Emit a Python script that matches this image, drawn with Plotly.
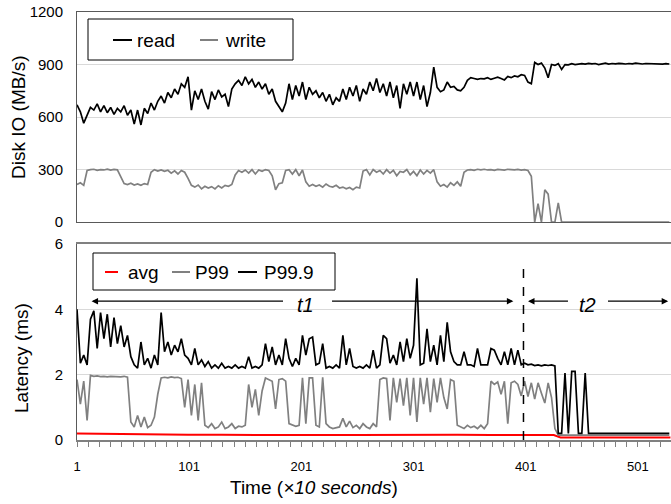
import plotly.graph_objects as go

# time index (x10 seconds), sampled every 3 units
t = list(range(1, 530, 3))

read = [
    670, 630, 565, 615, 655, 640, 675, 630, 665, 625,
    655, 615, 650, 630, 665, 610, 640, 560, 640, 555,
    650, 620, 680, 640, 690, 720, 680, 740, 710, 760,
    730, 790, 770, 830, 640, 750, 700, 760, 690, 645,
    745, 700, 755, 715, 730, 660, 760, 790, 810, 780,
    830, 790, 815, 770, 800, 760, 790, 730, 760, 690,
    660, 630, 680, 790, 700, 780, 720, 800, 700, 770,
    730, 750, 710, 740, 690, 730, 670, 710, 690, 760,
    700, 770, 720, 780, 690, 760, 730, 800, 750, 820,
    740, 790, 720, 800, 710, 780, 650, 790, 730, 800,
    720, 800, 700, 780, 660, 740, 885, 770, 745, 755,
    800, 770, 775, 755, 750, 770, 810, 825, 820, 815,
    820, 818, 825, 815, 822, 828, 820, 812, 832, 825,
    835, 830, 842, 838, 800, 790, 912, 900, 908, 880,
    825, 900, 895, 905, 872, 900, 898, 905, 900, 903,
    905, 902, 907, 904, 906, 900, 905, 908, 903, 906,
    904, 907, 905, 903, 906, 904, 908, 905, 903, 906,
    905, 903, 906, 904, 902, 905, 903,
]

write = [
    215, 225, 210, 295, 300, 302, 296, 300, 298, 303,
    297, 301, 299, 258, 220, 215, 222, 212, 218, 210,
    220, 215, 285, 300, 292, 298, 290, 296, 280, 293,
    275, 295, 285, 250, 210, 200, 212, 190, 205, 195,
    203, 190, 208, 195, 210, 205, 215, 270, 295, 285,
    298, 280, 300, 275, 298, 290, 300, 295, 265, 185,
    220, 225, 295, 300, 275, 300, 265, 298, 230, 205,
    215, 205, 212, 200, 218, 205, 200, 210, 195, 200,
    190, 198, 185, 200, 195, 292, 300, 270, 300, 285,
    295, 275, 300, 280, 296, 265, 290, 285, 300, 270,
    290, 265, 298, 275, 296, 280, 300, 230, 205, 215,
    200, 225, 210, 230, 205, 285, 298, 300, 296, 302,
    299, 302, 298, 300, 296, 301, 299, 297, 302, 300,
    298, 301, 297, 300, 295, 262, 0, 105, 0, 185,
    160, 0, 0, 110, 0, 0, 0, 0, 0, 0,
    0, 0, 0, 0, 0, 0, 0, 0, 0, 0,
    0, 0, 0, 0, 0, 0, 0, 0, 0, 0,
    0, 0, 0, 0, 0, 0, 0,
]

p999 = [
    4.0, 2.35, 2.6, 2.3, 3.7, 3.95, 2.8, 3.9, 3.1, 3.85,
    2.85, 3.75, 2.95, 3.5, 2.85, 3.2, 2.55, 2.3, 2.2, 3.0,
    2.3, 2.5, 2.2, 2.6, 2.3, 3.9, 2.7, 3.0, 2.6, 2.9,
    2.7, 3.1, 2.6, 2.5, 2.3, 2.8, 2.3, 2.45, 2.25, 2.4,
    2.2, 2.3, 2.2, 2.35, 2.2, 2.25, 2.2, 2.3, 2.2, 2.25,
    2.2, 2.55, 2.2, 2.25, 2.2, 2.3, 2.95, 2.4, 2.85, 2.3,
    2.6, 2.3, 3.1, 2.5, 2.25, 2.5, 2.3, 3.2, 2.6, 3.1,
    3.15, 2.3, 2.35, 2.95, 2.2, 2.25, 2.2, 2.3, 2.2, 3.2,
    2.3, 2.8, 2.25, 2.2, 2.25, 2.2, 2.3, 2.2, 2.75, 2.2,
    2.3, 3.2, 3.1, 2.35, 2.6, 2.3, 3.0, 2.4, 3.1, 2.5,
    2.9, 4.95, 2.3, 2.35, 3.4, 2.4, 2.9, 2.3, 3.2, 2.4,
    3.6, 2.7, 2.4, 2.3, 2.3, 2.7, 2.3, 2.3, 2.25, 2.8,
    2.3, 2.3, 2.3, 2.8, 2.75, 2.5, 2.3, 2.7, 2.3, 2.8,
    2.3, 2.75, 2.3, 2.35, 2.3, 2.32, 2.28, 2.3, 2.27, 2.3,
    2.28, 2.3, 2.27, 0.2, 0.2, 2.05, 0.2, 2.1, 2.1, 0.2,
    0.2, 2.05, 0.2, 0.2, 0.2, 0.2, 0.2, 0.2, 0.2, 0.2,
    0.2, 0.2, 0.2, 0.2, 0.2, 0.2, 0.2, 0.2, 0.2, 0.2,
    0.2, 0.2, 0.2, 0.2, 0.2, 0.2, 0.2,
]

p99 = [
    1.85, 1.1, 1.8, 0.6, 1.98, 1.95, 1.96, 1.94, 1.95, 1.93,
    1.95, 1.94, 1.95, 1.93, 1.95, 1.92, 0.55, 0.4, 0.75, 0.4,
    0.7, 0.38, 0.45, 0.7, 1.4, 1.9, 1.92, 1.9, 1.93, 1.91,
    1.92, 1.88, 1.0, 1.85, 0.75, 1.7, 0.6, 1.75, 0.45, 0.38,
    0.5, 0.35, 0.4, 0.55, 0.35, 0.4, 0.5, 0.35, 0.42, 0.4,
    0.45, 1.7, 1.0, 1.55, 0.75, 1.5, 1.9, 1.85, 1.8, 0.95,
    1.85, 1.88, 1.8, 0.5, 0.45, 0.42, 0.45, 1.9, 0.5, 1.9,
    1.9, 0.45, 0.4, 1.92, 0.5, 0.4, 0.35, 0.38, 0.4, 0.66,
    0.4, 0.58, 0.38, 0.45, 0.35, 0.5, 0.4, 0.35, 0.5, 0.4,
    1.85, 1.9, 1.88, 0.6, 1.9, 1.15, 1.88, 1.05, 1.9, 0.75,
    1.9, 0.55, 1.9, 1.1, 1.9, 0.85, 1.88, 1.15, 1.9, 1.3,
    0.95, 1.85, 1.8, 0.45, 0.4, 0.35, 0.45, 0.38, 0.42, 0.35,
    0.45, 0.35, 0.5, 1.8, 1.7, 1.78, 1.4, 1.8, 0.5, 1.75,
    1.8, 1.7, 1.35, 1.8, 1.33, 1.75, 1.25, 1.75, 1.43, 1.13,
    1.75, 1.3, 0.35, 0.15, 0.15, 0.15, 0.15, 0.15, 0.15, 0.15,
    0.15, 0.15, 0.15, 0.15, 0.15, 0.15, 0.15, 0.15, 0.15, 0.15,
    0.15, 0.15, 0.15, 0.15, 0.15, 0.15, 0.15, 0.15, 0.15, 0.15,
    0.15, 0.15, 0.15, 0.15, 0.15, 0.15, 0.15,
]

avg_t = [1, 20, 40, 60, 80, 100, 130, 160, 190, 220, 250, 280, 310, 340, 370, 400, 426, 432, 460, 500, 530]
avg = [0.2, 0.19, 0.19, 0.18, 0.17, 0.16, 0.16, 0.15, 0.16, 0.15, 0.15, 0.16, 0.15, 0.16, 0.15, 0.15, 0.15, 0.08, 0.08, 0.08, 0.08]

io_ticks = [0, 300, 600, 900, 1200]
lat_ticks = [0, 2, 4, 6]
boundary_t = 399

FONT = "Liberation Sans, Arial, sans-serif"
C_READ, C_WRITE = "#000000", "#808080"
C_AVG, C_P99, C_P999 = "#ff0000", "#808080", "#000000"

fig = go.Figure()
fig.add_trace(go.Scatter(x=t, y=read, name="read", mode="lines",
                         line=dict(color=C_READ, width=1.7), xaxis="x", yaxis="y"))
fig.add_trace(go.Scatter(x=t, y=write, name="write", mode="lines",
                         line=dict(color=C_WRITE, width=1.7), xaxis="x", yaxis="y"))
fig.add_trace(go.Scatter(x=avg_t, y=avg, name="avg", mode="lines",
                         line=dict(color=C_AVG, width=2), xaxis="x2", yaxis="y2"))
fig.add_trace(go.Scatter(x=t, y=p99, name="P99", mode="lines",
                         line=dict(color=C_P99, width=1.7), xaxis="x2", yaxis="y2"))
fig.add_trace(go.Scatter(x=t, y=p999, name="P99.9", mode="lines",
                         line=dict(color=C_P999, width=1.7), xaxis="x2", yaxis="y2"))

xr = [1, 530.5]
fig.update_layout(
    width=671, height=504,
    margin=dict(l=77, r=0, t=12, b=64),
    paper_bgcolor="white", plot_bgcolor="white",
    font=dict(family=FONT, color="#000000"),
    showlegend=False,
    xaxis=dict(domain=[0, 1], range=xr, anchor="y", showticklabels=False, ticks="",
               showgrid=False, zeroline=False, showline=True, mirror=True,
               linecolor="#595959", linewidth=1),
    yaxis=dict(domain=[0.509, 1], range=[0, 1200], tickmode="array", tickvals=io_ticks,
               showgrid=True, gridcolor="#d9d9d9", zeroline=False, showline=True, mirror=True,
               linecolor="#595959", linewidth=1, ticks="", tickfont=dict(size=15),
               ticklabelstandoff=10),
    xaxis2=dict(domain=[0, 1], range=xr, anchor="y2", tickmode="linear", tick0=1, dtick=100,
                ticks="outside", ticklen=5, tickcolor="#808080", tickfont=dict(size=13),
                minor=dict(ticks="outside", ticklen=5, tick0=1, dtick=10, tickcolor="#808080", showgrid=False),
                showgrid=False, zeroline=False, showline=True, mirror=True,
                linecolor="#808080", linewidth=2, ticklabelstandoff=8),
    yaxis2=dict(domain=[0, 0.458], range=[0, 6], tickmode="array", tickvals=lat_ticks,
                showgrid=True, gridcolor="#d9d9d9", zeroline=False, showline=True, mirror=True,
                linecolor="#595959", linewidth=1, ticks="", tickfont=dict(size=15),
                ticklabelstandoff=10),
)

# plot area in pixels: x 77..671, y 12..440
def px(xp):
    return (xp - 77) / 594.0

def py(yp):
    return (440 - yp) / 428.0

def legend_box(x0, x1, y0, y1, ly, items):
    fig.add_shape(type="rect", xref="paper", yref="paper", x0=px(x0), x1=px(x1), y0=py(y1), y1=py(y0),
                  line=dict(color="#000000", width=1), fillcolor="white", layer="above")
    for (lx0, lx1, tx, label, color) in items:
        fig.add_shape(type="line", xref="paper", yref="paper", x0=px(lx0), x1=px(lx1), y0=py(ly), y1=py(ly),
                      line=dict(color=color, width=2), layer="above")
        fig.add_annotation(x=px(tx), y=py(ly), xref="paper", yref="paper", text=label, showarrow=False,
                           xanchor="left", yanchor="middle", font=dict(size=19))

legend_box(88, 293, 19, 60, 40, [
    (113, 132, 135, "read", C_READ),
    (200, 218, 223, "write", C_WRITE),
])
legend_box(93, 335, 253, 290, 272, [
    (105, 118, 126, "avg", C_AVG),
    (172, 190, 193, "P99", C_P99),
    (238, 257, 262, "P99.9", C_P999),
])

# boundary between the two phases
fig.add_shape(type="line", xref="x2", yref="y2", x0=boundary_t, x1=boundary_t, y0=0, y1=5.38,
              line=dict(color="#000000", width=1.5, dash="dash"))

arrow = dict(xref="x2", yref="y2", axref="x2", ayref="y2", text="", showarrow=True,
             arrowhead=2, arrowsize=1, arrowwidth=1.3, arrowcolor="#000000", standoff=0, startstandoff=0)
fig.add_annotation(x=14, y=4.25, ax=186, ay=4.25, **arrow)
fig.add_annotation(x=390, y=4.25, ax=227, ay=4.25, **arrow)
fig.add_annotation(x=403, y=4.25, ax=440, ay=4.25, **arrow)
fig.add_annotation(x=528, y=4.25, ax=473, ay=4.25, **arrow)
fig.add_annotation(x=205, y=4.12, xref="x2", yref="y2", text="<i>t1</i>", showarrow=False,
                   font=dict(size=20))
fig.add_annotation(x=456.5, y=4.12, xref="x2", yref="y2", text="<i>t2</i>", showarrow=False,
                   font=dict(size=20))

# axis titles
fig.add_annotation(x=px(18), y=py(117), xref="paper", yref="paper", text="Disk IO (MB/s)",
                   textangle=-90, showarrow=False, font=dict(size=19), xanchor="center", yanchor="middle")
fig.add_annotation(x=px(21), y=py(358), xref="paper", yref="paper", text="Latency (ms)",
                   textangle=-90, showarrow=False, font=dict(size=19), xanchor="center", yanchor="middle")
fig.add_annotation(x=px(314), y=py(487), xref="paper", yref="paper", text="Time (<i>×10 seconds</i>)",
                   showarrow=False, font=dict(size=19), xanchor="center", yanchor="middle")

fig.write_html("out.html", config={"displayModeBar": False},
               post_script="document.body.style.margin='0';document.body.style.padding='0';")
